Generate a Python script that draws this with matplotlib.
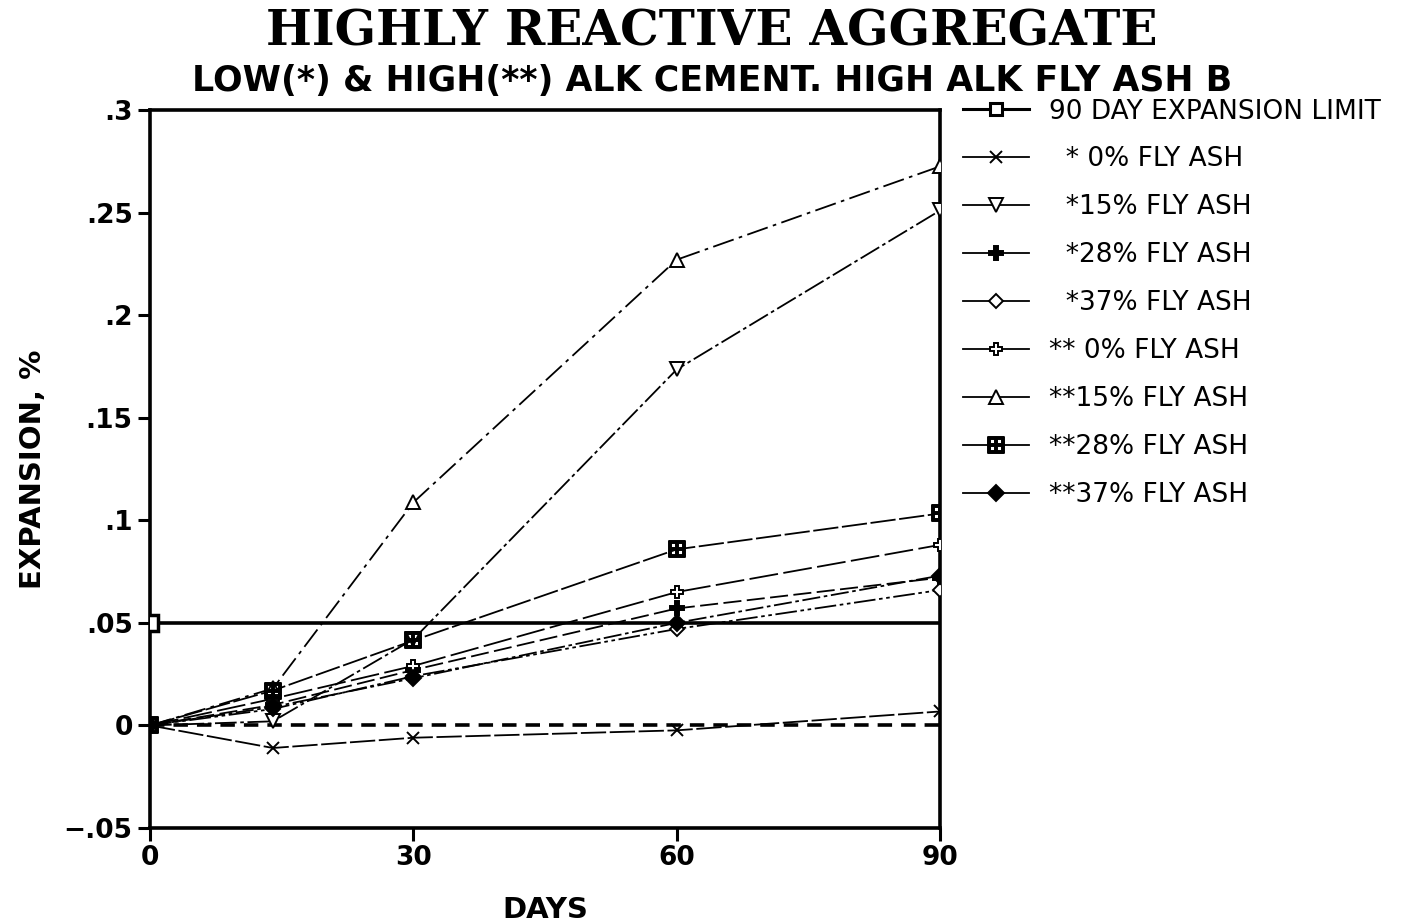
import matplotlib
matplotlib.use('Agg')
import matplotlib.pyplot as plt
from matplotlib.lines import Line2D

days = [0, 14, 30, 60, 90]

limit_days = [0, 90]
limit_vals = [0.05, 0.05]

series_labels = [
    '  * 0% FLY ASH',
    '  *15% FLY ASH',
    '  *28% FLY ASH',
    '  *37% FLY ASH',
    '** 0% FLY ASH',
    '**15% FLY ASH',
    '**28% FLY ASH',
    '**37% FLY ASH',
]
low_0 = [0, -0.011, -0.006, -0.0024, 0.0068]
low_15 = [0, 0.002, 0.042, 0.1735, 0.251]
low_28 = [0, 0.010, 0.027, 0.057, 0.072]
low_37 = [0, 0.008, 0.024, 0.047, 0.066]
high_0 = [0, 0.013, 0.029, 0.065, 0.088]
high_15 = [0, 0.018, 0.1087, 0.227, 0.2725]
high_28 = [0, 0.017, 0.0414, 0.0858, 0.1033]
high_37 = [0, 0.009, 0.023, 0.050, 0.073]
series_vals = [low_0, low_15, low_28, low_37, high_0, high_15, high_28, high_37]

yticks = [-0.05, 0, 0.05, 0.1, 0.15, 0.2, 0.25, 0.3]
ytick_labels = ['\u2212.05', '0', '.05', '.1', '.15', '.2', '.25', '.3']
xticks = [0, 30, 60, 90]

# marker, size, face, linestyle
styles = [
    ('x', 9, 'none', (0, (14, 2))),
    ('v', 10, 'white', (0, (12, 2, 2, 2))),
    ('P', 10, 'black', (0, (10, 3))),
    ('D', 7, 'white', (0, (12, 2, 2, 2, 2, 2))),
    ('P', 9, 'white', (0, (16, 3))),
    ('^', 10, 'white', (0, (12, 3, 2, 3))),
    (r'$\boxplus$', 11, 'black', (0, (14, 2))),
    ('D', 8, 'black', (0, (10, 2, 2, 2))),
]

fig = plt.figure(figsize=(14.1, 9.24), dpi=100)
ax = fig.add_axes([0.1064, 0.1039, 0.5603, 0.7771])

ax.plot(limit_days, limit_vals, color='black', lw=2.6, marker='s', ms=11,
        mfc='white', mec='black', mew=2.5, markevery=[0], zorder=3)
ax.plot(limit_days, [0, 0], color='black', lw=2.6, ls=(0, (4, 2.5)), zorder=2)

handles = [Line2D([], [], color='black', lw=2.2, marker='s', ms=9,
                  mfc='white', mew=2.2)]
for (m, ms, fc, ls), vals in zip(styles, series_vals):
    ax.plot(days, vals, color='black', lw=1.3, ls=ls, marker=m, ms=ms,
            mfc=fc, mec='black', mew=1.4, zorder=4)
    handles.append(Line2D([], [], color='black', lw=1.3, marker=m, ms=ms,
                          mfc=fc, mec='black', mew=1.4))

labels = ['90 DAY EXPANSION LIMIT'] + series_labels
fig.legend(handles, labels, loc='upper left', bbox_to_anchor=(0.666, 0.919),
           frameon=False, handlelength=2.5, handletextpad=0.76,
           labelspacing=0.83, prop={'family': 'DejaVu Sans', 'size': 19})

ax.set_xlim(0, 90)
ax.set_ylim(-0.05, 0.3)
ax.set_xticks(xticks)
ax.set_xticklabels([str(t) for t in xticks], fontsize=19, fontweight='bold')
ax.set_yticks(yticks)
ax.set_yticklabels(ytick_labels, fontsize=19, fontweight='bold')
ax.tick_params(direction='out', length=9, width=2.2)
for sp in ax.spines.values():
    sp.set_linewidth(2.6)

ax.set_xlabel('DAYS', fontsize=21, fontweight='bold', labelpad=18)
ax.set_ylabel('EXPANSION, %', fontsize=21, fontweight='bold', labelpad=12)

fig.text(0.505, 0.965, 'HIGHLY REACTIVE AGGREGATE', ha='center', va='center',
         fontsize=35, fontweight='bold', family='DejaVu Serif')
fig.text(0.505, 0.912, 'LOW(*) & HIGH(**) ALK CEMENT. HIGH ALK FLY ASH B',
         ha='center', va='center', fontsize=25, fontweight='bold',
         family='DejaVu Sans')

fig.savefig('out.png', dpi=100)
